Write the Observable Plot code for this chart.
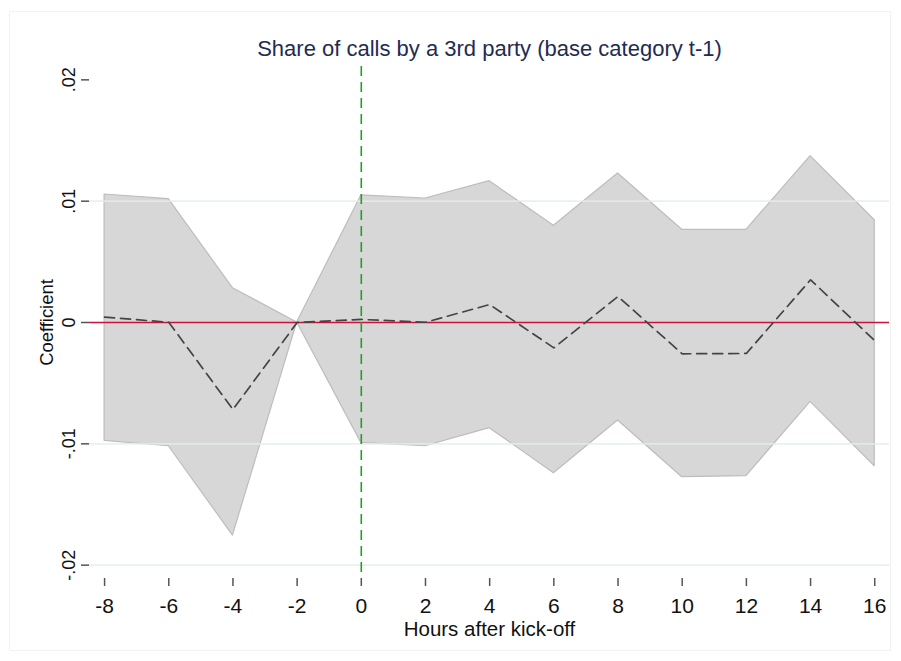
<!DOCTYPE html>
<html>
<head>
<meta charset="utf-8">
<script src="https://cdn.jsdelivr.net/npm/d3@7"></script>
<script src="https://cdn.jsdelivr.net/npm/@observablehq/plot@0.6"></script>
<style>
  html, body { margin: 0; padding: 0; background: #fff; }
  #wrap { position: relative; width: 901px; height: 661px; }
  #frame { position: absolute; left: 9px; top: 11px; width: 882px; height: 640px; border: 1px solid #f1f3f3; box-sizing: border-box; pointer-events: none; }
</style>
</head>
<body>
<div id="wrap"><div id="frame"></div></div>
<script>
// Event-study coefficients: hours relative to kick-off (t-1 = -2 is the base category)
const hours = [-8, -6, -4, -2, 0, 2, 4, 6, 8, 10, 12, 14, 16];
const coef = [0.00044, 0.00002, -0.00717, 0, 0.00025, 0.00002, 0.00148, -0.00209, 0.00214, -0.00258, -0.00255, 0.00352, -0.00150];
const ciUpper = [0.01055, 0.01017, 0.00283, 0, 0.01047, 0.01022, 0.01165, 0.00797, 0.01228, 0.00764, 0.00764, 0.01371, 0.00843];
const ciLower = [-0.00975, -0.01020, -0.01756, 0, -0.00992, -0.01020, -0.00871, -0.01242, -0.00808, -0.01275, -0.01267, -0.00654, -0.01185];

const xTickLabels = ["-8", "-6", "-4", "-2", "0", "2", "4", "6", "8", "10", "12", "14", "16"];
const yTicks = [-0.02, -0.01, 0, 0.01, 0.02];
const yTickLabels = ["-.02", "-.01", "0", ".01", ".02"];
const gridLines = [-0.02, -0.01, 0.01];
const kickOff = [0];
const zeroLine = [0];

const titleText = "Share of calls by a 3rd party (base category t-1)";
const xLabel = "Hours after kick-off";
const yLabel = "Coefficient";

const rows = hours.map((h, i) => ({hour: h, b: coef[i], lo: ciLower[i], hi: ciUpper[i]}));

const font = "'Liberation Sans', Arial, Helvetica, sans-serif";

const chart = Plot.plot({
  width: 901,
  height: 661,
  marginLeft: 89,
  marginRight: 12,
  marginTop: 66,
  marginBottom: 83,
  style: {fontFamily: font, background: "transparent", overflow: "visible"},
  x: {domain: [-8.47, 16.46]},
  y: {domain: [-0.0211, 0.0211]},
  marks: [
    // confidence band
    Plot.areaY(rows, {x: "hour", y1: "lo", y2: "hi", fill: "#d7d7d7", stroke: "#bdbdbd", strokeWidth: 1.2, curve: "linear"}),
    // horizontal grid
    Plot.ruleY(gridLines, {stroke: "#e4ecec", strokeWidth: 1.6, strokeOpacity: 0.8}),
    // zero reference line
    Plot.ruleY(zeroLine, {stroke: "#c8143c", strokeWidth: 1.4}),
    // kick-off marker
    Plot.ruleX(kickOff, {stroke: "#1f9e22", strokeWidth: 1.6, strokeDasharray: "10,6"}),
    // point estimates
    Plot.line(rows, {x: "hour", y: "b", stroke: "#444444", strokeWidth: 1.7, strokeDasharray: "10,6"}),
    // axes
    Plot.axisX({
      ticks: hours, tickSize: 8, line: true, stroke: "#555", strokeWidth: 1.5,
      tickFormat: () => "", label: null
    }),
    Plot.axisY({
      ticks: yTicks, tickSize: 8, line: true, stroke: "#555", strokeWidth: 1.5,
      tickFormat: () => "", label: null
    }),
    Plot.text(hours, {
      x: d => d, text: (d, i) => xTickLabels[i], frameAnchor: "bottom", dy: 27.5,
      textAnchor: "middle", lineAnchor: "middle", fontSize: 21, fill: "#111"
    }),
    Plot.text(yTicks, {
      y: d => d, text: (d, i) => yTickLabels[i], frameAnchor: "left", dx: -20,
      rotate: -90, textAnchor: "middle", lineAnchor: "middle", fontSize: 18, fill: "#111"
    }),
    // titles
    Plot.text([titleText], {frameAnchor: "top", dy: -17.5, textAnchor: "middle", lineAnchor: "middle", fontSize: 22, fill: "#1e2c52"}),
    Plot.text([xLabel], {frameAnchor: "bottom", dy: 51, textAnchor: "middle", lineAnchor: "middle", fontSize: 20.5, fill: "#111"}),
    Plot.text([yLabel], {frameAnchor: "left", dx: -42.5, rotate: -90, textAnchor: "middle", lineAnchor: "middle", fontSize: 18.4, fill: "#111"})
  ]
});

document.getElementById("wrap").prepend(chart);
</script>
</body>
</html>
